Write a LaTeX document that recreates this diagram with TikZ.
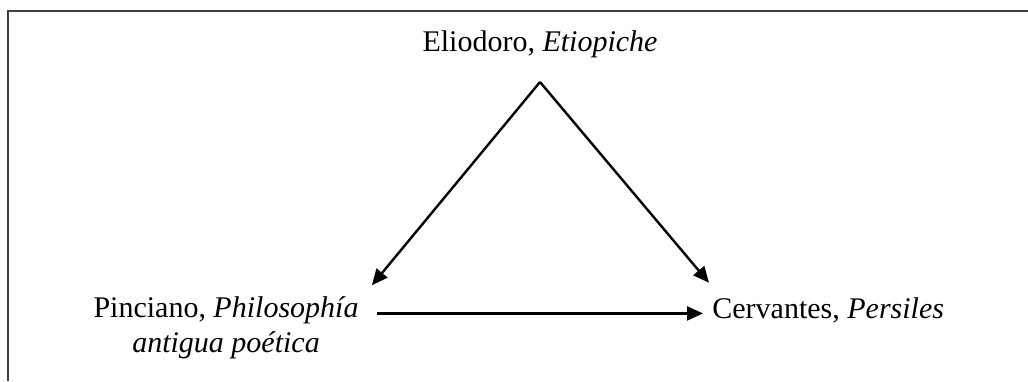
\documentclass[tikz,border=0pt]{standalone}
\usepackage{fontspec}
\setmainfont{Liberation Serif}
\usetikzlibrary{arrows.meta}
\tikzset{
  work/.style={inner sep=0pt,font=\fontsize{15}{17.25}\selectfont},
  link/.style={line width=1.2pt,-{Triangle[length=8pt,width=7pt]}},
  frame/.style={line width=0.75pt,draw=black!75}
}
\begin{document}
\begin{tikzpicture}[x=0.5pt,y=-0.5pt]
\useasboundingbox (0,0) rectangle (1028,381);
\draw[frame] (1028,11) -- (8,11) -- (8,381);

\node[work,anchor=base] (eliodoro) at (540,51) {Eliodoro, \textit{Etiopiche}};
\node[work,anchor=base,align=center] (pinciano) at (226,352) {Pinciano, \textit{Philosophía}\\\textit{antigua poética}};
\node[work,anchor=base west] (cervantes) at (712,318) {Cervantes, \textit{Persiles}};

\coordinate (apex) at (540,82);
\draw[link] (apex) -- ([shift={(13,-11)}]pinciano.north east);
\draw[link] (apex) -- ([shift={(-3,-14)}]cervantes.north west);
\draw[link,shorten <=9pt,shorten >=4.5pt] (pinciano.north east |- cervantes.mid west) -- (cervantes.mid west);
\end{tikzpicture}
\end{document}
